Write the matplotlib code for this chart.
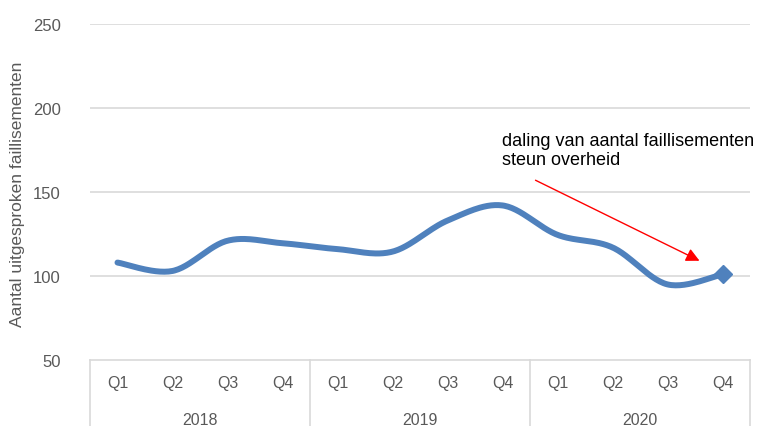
import numpy as np
import matplotlib.pyplot as plt

# faillissementen per kwartaal
years = ["2018", "2019", "2020"]
quarters = ["Q1", "Q2", "Q3", "Q4"]
values = [108, 103, 121, 119.5, 116, 114.5, 133, 142, 124.5, 117, 95, 101]

plt.rcParams['font.family'] = ['Liberation Sans', 'DejaVu Sans']
GREY = '#595959'
GRID = '#d9d9d9'
BLUE = '#4f81bd'


def smooth(x, y, n=30):
    # bezier-smoothing zoals in excel (catmull-rom)
    x = np.asarray(x, float)
    y = np.asarray(y, float)
    px = np.concatenate([[x[0]], x, [x[-1]]])
    py = np.concatenate([[y[0]], y, [y[-1]]])
    xs, ys = [], []
    t = np.linspace(0, 1, n)
    for i in range(1, len(px) - 2):
        p0 = np.array([px[i], py[i]])
        p3 = np.array([px[i + 1], py[i + 1]])
        c1 = p0 + (np.array([px[i + 1], py[i + 1]]) - np.array([px[i - 1], py[i - 1]])) / 6
        c2 = p3 - (np.array([px[i + 2], py[i + 2]]) - np.array([px[i], py[i]])) / 6
        b = ((1 - t) ** 3)[:, None] * p0 + (3 * (1 - t) ** 2 * t)[:, None] * c1 \
            + (3 * (1 - t) * t ** 2)[:, None] * c2 + (t ** 3)[:, None] * p3
        xs.extend(b[:, 0])
        ys.extend(b[:, 1])
    return np.array(xs), np.array(ys)


fig = plt.figure(figsize=(7.65, 4.27), dpi=100)
ax = fig.add_axes([90 / 765, 1 - 361 / 427, 660 / 765, 336 / 427])

n = len(values)
xpos = np.arange(n)
sx, sy = smooth(xpos, values)
ax.plot(sx, sy, color=BLUE, lw=4.3, solid_capstyle='round', zorder=3)
ax.plot(xpos[-1], values[-1], marker='D', ms=9, color=BLUE, zorder=4)

ax.set_xlim(-0.5, n - 0.5)
ax.set_ylim(50, 250)
ax.set_yticks([50, 100, 150, 200, 250])
for v in [100, 150, 200, 250]:
    ax.axhline(v, color=GRID, lw=1.2, zorder=1)
for s in ax.spines.values():
    s.set_visible(False)
ax.tick_params(axis='y', length=0, pad=21, labelsize=12, labelcolor=GREY)
ax.set_xticks([])

# categorie-as met kaders
ax.plot([-0.5, n - 0.5], [50, 50], color=GRID, lw=1.2, clip_on=False, transform=ax.transData)
for k in range(len(years) + 1):
    xb = -0.5 + 4 * k
    ax.plot([xb, xb], [0, -0.25], color=GRID, lw=1.2, clip_on=False,
            transform=ax.get_xaxis_transform())
for i in range(n):
    ax.text(i, -0.066, quarters[i % 4], ha='center', va='center', fontsize=11.5,
            color=GREY, transform=ax.get_xaxis_transform())
for k, yr in enumerate(years):
    ax.text(4 * k + 1.5, -0.178, yr, ha='center', va='center', fontsize=11.5,
            color=GREY, transform=ax.get_xaxis_transform())

fig.text(18 / 765, 1 - 194 / 427, "Aantal uitgesproken faillisementen", rotation=90,
         ha='center', va='center', fontsize=12.5, color=GREY)

fig.text(502 / 765, 1 - 151 / 427, "daling van aantal faillisementen\nsteun overheid",
         ha='left', va='center', fontsize=13, color='black', linespacing=1.1)
ax.annotate("", xy=(702, 427 - 263), xytext=(533, 427 - 180),
            xycoords='figure pixels', textcoords='figure pixels',
            arrowprops=dict(arrowstyle='-|>', color='red', lw=1, mutation_scale=20))

fig.savefig("out.png", dpi=100)
